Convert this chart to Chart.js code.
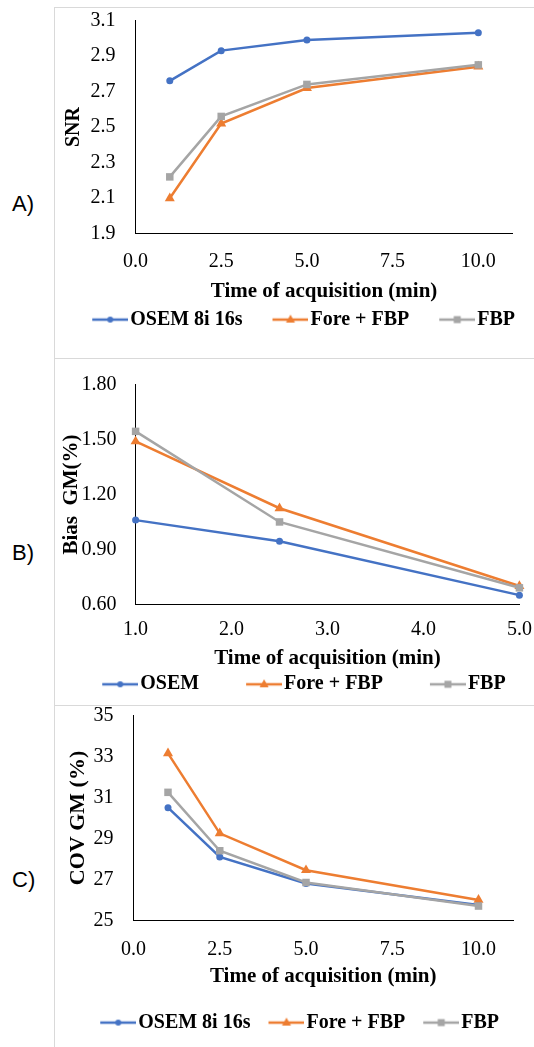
<!DOCTYPE html>
<html>
<head>
<meta charset="utf-8">
<script src="https://cdn.jsdelivr.net/npm/chart.js@4"></script>
<style>
html,body{margin:0;padding:0;background:#fff;}
body{width:534px;height:1047px;position:relative;overflow:hidden;}
.vline{position:absolute;left:54px;top:7px;width:1px;height:1040px;background:#d9d9d9;}
.hline{position:absolute;left:54px;width:480px;height:1px;background:#d9d9d9;}
canvas{position:absolute;left:55px;}
.lab{position:absolute;left:12px;font-family:'Liberation Sans',Arial,sans-serif;font-size:22px;line-height:22px;color:#000;}
</style>
</head>
<body>
<div class="vline"></div>
<div class="hline" style="top:7px"></div>
<div class="hline" style="top:358px"></div>
<div class="hline" style="top:705px"></div>
<div class="lab" style="top:193px">A)</div>
<div class="lab" style="top:542px">B)</div>
<div class="lab" style="top:869px">C)</div>
<canvas id="cA" width="500" height="350" style="top:8px"></canvas>
<canvas id="cB" width="500" height="346" style="top:359px"></canvas>
<canvas id="cC" width="500" height="341" style="top:706px"></canvas>
<script>
// ---------- data ----------
const xTitle = 'Time of acquisition (min)';

// A) SNR
const namesA = ['OSEM 8i 16s', 'Fore + FBP', 'FBP'];
const timeA = [1, 2.5, 5, 10];
const snrOsem = [2.76, 2.93, 2.99, 3.03];
const snrForeFbp = [2.10, 2.52, 2.72, 2.84];
const snrFbp = [2.22, 2.56, 2.74, 2.85];
const xTicksA = [0, 2.5, 5, 7.5, 10];
const yTicksA = [1.9, 2.1, 2.3, 2.5, 2.7, 2.9, 3.1];

// B) Bias GM
const namesB = ['OSEM', 'Fore + FBP', 'FBP'];
const timeB = [1, 2.5, 5];
const biasOsem = [1.06, 0.945, 0.65];
const biasForeFbp = [1.49, 1.125, 0.70];
const biasFbp = [1.545, 1.05, 0.69];
const xTicksB = [1, 2, 3, 4, 5];
const yTicksB = [0.6, 0.9, 1.2, 1.5, 1.8];

// C) COV GM
const namesC = ['OSEM 8i 16s', 'Fore + FBP', 'FBP'];
const timeC = [1, 2.5, 5, 10];
const covOsem = [30.5, 28.1, 26.8, 25.75];
const covForeFbp = [33.15, 29.25, 27.45, 26.0];
const covFbp = [31.25, 28.4, 26.85, 25.7];
const xTicksC = [0, 2.5, 5, 7.5, 10];
const yTicksC = [25, 27, 29, 31, 33, 35];

// ---------- styles ----------
const SERIF = "'Liberation Serif','Times New Roman',serif";
const COLORS = ['#4472C4', '#ED7D31', '#A5A5A5'];
const MARKERS = ['circle', 'triangle', 'rect'];
const RADII = [3.5, 5.8, 5.3];

function legendImg(color, marker) {
  const c = document.createElement('canvas');
  c.width = 44; c.height = 14;
  const g = c.getContext('2d');
  g.strokeStyle = color; g.lineWidth = 2.5;
  g.beginPath(); g.moveTo(8, 7); g.lineTo(44, 7); g.stroke();
  g.fillStyle = color;
  const cx = 26, cy = 7;
  g.beginPath();
  if (marker === 'circle') { g.arc(cx, cy, 3, 0, Math.PI * 2); }
  else if (marker === 'triangle') { g.moveTo(cx, cy - 5); g.lineTo(cx + 4.5, cy + 3); g.lineTo(cx - 4.5, cy + 3); g.closePath(); }
  else { g.rect(cx - 3.5, cy - 3.5, 7, 7); }
  g.fill();
  return c;
}

function makeChart(id, p) {
  const imgs = COLORS.map((c, i) => legendImg(c, MARKERS[i]));
  const datasets = p.series.map((vals, i) => ({
    label: p.names[i],
    data: p.x.map((t, j) => ({ x: t, y: vals[j] })),
    borderColor: COLORS[i],
    backgroundColor: COLORS[i],
    borderWidth: 2.5,
    pointStyle: MARKERS[i],
    pointRadius: RADII[i],
    pointBorderWidth: 0,
    pointBackgroundColor: COLORS[i],
    tension: 0,
    clip: false,
    order: 3 - i,
    yAxisID: 'y'
  }));
  return new Chart(document.getElementById(id), {
    type: 'line',
    data: { datasets },
    options: {
      responsive: false,
      animation: false,
      devicePixelRatio: 1,
      layout: { padding: p.pad },
      plugins: {
        tooltip: { enabled: false },
        legend: {
          display: true, position: 'bottom', align: 'center',
          labels: {
            usePointStyle: true, pointStyleWidth: 28, padding: p.legPad,
            color: '#000',
            font: { family: SERIF, size: 20, weight: 'bold' },
            generateLabels: (chart) => chart.data.datasets.map((ds, i) => ({
              text: ds.label + (i < 2 ? p.legSpaces : ''),
              pointStyle: imgs[i], fillStyle: ds.borderColor, strokeStyle: ds.borderColor,
              fontColor: '#000', lineWidth: 0, hidden: false, datasetIndex: i
            }))
          }
        }
      },
      scales: {
        x: {
          type: 'linear', min: p.xMin, max: p.xMax,
          afterBuildTicks: (s) => { s.ticks = p.xTicks.map(v => ({ value: v })); },
          afterFit: (s) => { s.height = p.xH; },
          grid: { display: true, drawOnChartArea: false, drawTicks: true, tickLength: p.xTl, color: 'rgba(0,0,0,0)' },
          border: { display: true, color: '#000', width: 1 },
          ticks: { padding: 0, color: '#000', autoSkip: false, maxRotation: 0,
            font: { family: SERIF, size: 20, lineHeight: 1.2 },
            callback: (v) => Number(v).toFixed(1) },
          title: { display: true, text: xTitle, color: '#000',
            font: { family: SERIF, size: 21, weight: 'bold', lineHeight: 1.2 },
            padding: { top: 0, bottom: p.xTitlePb } }
        },
        y: {
          type: 'linear', position: 'left', min: p.yMin, max: p.yMax,
          afterBuildTicks: (s) => { s.ticks = p.yTicks.map(v => ({ value: v })); },
          afterFit: (s) => { s.width = p.yW; },
          grid: { display: true, drawOnChartArea: false, drawTicks: true, tickLength: p.yTl, color: 'rgba(0,0,0,0)' },
          border: { display: true, color: '#000', width: 1 },
          ticks: { padding: 0, color: '#000', autoSkip: false,
            font: { family: SERIF, size: 20, lineHeight: 0.9 },
            callback: (v) => Number(v).toFixed(p.yDec) },
          title: { display: true, text: p.yTitle, color: '#000',
            font: { family: SERIF, size: p.yTitleSize, weight: 'bold', lineHeight: 1.2 },
            padding: { top: p.yTitlePt, bottom: 0 } }
        },
        spacer: {
          type: 'linear', position: 'right', display: true,
          afterFit: (s) => { s.width = p.rightW; },
          grid: { display: false, drawTicks: false },
          border: { display: false },
          ticks: { display: false },
          title: { display: false }
        }
      }
    }
  });
}

makeChart('cA', {
  names: namesA, x: timeA, series: [snrOsem, snrForeFbp, snrFbp],
  xMin: 0, xMax: 11, xTicks: xTicksA, yMin: 1.9, yMax: 3.1, yTicks: yTicksA, yDec: 1,
  yTitle: 'SNR', yTitleSize: 20, yTitlePt: 7,
  pad: { left: 0, right: 2.8, top: 12.4, bottom: 18.4 },
  yW: 80.5, yTl: 20, rightW: 39.6, xH: 70.8, xTl: 15.9, xTitlePb: 0.6,
  legPad: 5, legSpaces: '     '
});

makeChart('cB', {
  names: namesB, x: timeB, series: [biasOsem, biasForeFbp, biasFbp],
  xMin: 1, xMax: 5, xTicks: xTicksB, yMin: 0.6, yMax: 1.8, yTicks: yTicksB, yDec: 2,
  yTitle: 'Bias  GM(%)', yTitleSize: 21, yTitlePt: 4.4,
  pad: { left: 0, right: 2.1, top: 25.7, bottom: 0.7 },
  yW: 80.6, yTl: 19, rightW: 33.5, xH: 63, xTl: 13.5, xTitlePb: -4.1,
  legPad: 7, legSpaces: '        '
});

makeChart('cC', {
  names: namesC, x: timeC, series: [covOsem, covForeFbp, covFbp],
  xMin: 0, xMax: 11, xTicks: xTicksC, yMin: 25, yMax: 35, yTicks: yTicksC, yDec: 0,
  yTitle: 'COV GM (%)', yTitleSize: 22, yTitlePt: 9.8,
  pad: { left: 0, right: 10.8, top: 9.5, bottom: 4.4 },
  yW: 78.5, yTl: 20, rightW: 31.2, xH: 89.2, xTl: 17, xTitlePb: 20.4,
  legPad: 3, legSpaces: '   '
});
</script>
</body>
</html>
